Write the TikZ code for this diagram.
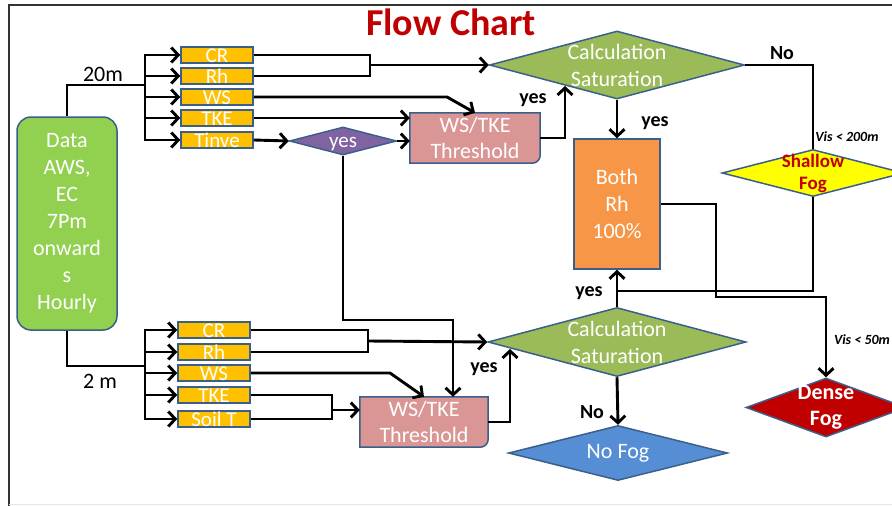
\documentclass[tikz,border=0pt]{standalone}
\usepackage{fontspec}
\setmainfont{Carlito}
\usetikzlibrary{arrows.meta,shapes.geometric,backgrounds}
\definecolor{bord}{HTML}{3A5F8B}
\definecolor{gbox}{HTML}{92D050}
\definecolor{gold}{HTML}{FFC000}
\definecolor{pinkb}{HTML}{D99694}
\definecolor{gdia}{HTML}{9BBB59}
\definecolor{oran}{HTML}{F79646}
\definecolor{purp}{HTML}{8064A2}
\definecolor{yell}{HTML}{FFFF00}
\definecolor{dred}{HTML}{C00000}
\definecolor{bluef}{HTML}{558ED5}
\newcommand\sm[1]{\raisebox{-0.34em}[0pt][0pt]{#1}}
\tikzset{
  ln/.style={line width=2.9pt, black},
  arr/.style={ln, -{Straight Barb[length=7pt,width=15pt]}},
  bx/.style={draw=bord, line width=1.5pt, text=white, align=center, inner sep=0pt},
  sbox/.style={bx, fill=gold, minimum width=72pt, minimum height=16pt, font=\fontsize{21}{21}\selectfont},
  dia/.style={diamond, draw=bord, line width=1.5pt, inner sep=0pt},
  dtxt/.style={text=white, align=center, font=\fontsize{22}{27}\selectfont},
  lbl/.style={font=\bfseries\fontsize{20}{20}\selectfont},
  vis/.style={font=\bfseries\itshape\fontsize{14}{14}\selectfont},
  thr/.style={text=white, align=center, inner sep=0pt, minimum width=130pt, minimum height=50pt, font=\fontsize{22}{26}\selectfont},
}
\begin{document}
\begin{tikzpicture}[x=1pt,y=-1pt]
\useasboundingbox (0,0) rectangle (892,506);
% frame
\draw[line width=2pt, black!80] (9,506) -- (9,5) -- (892,5);
\draw[line width=1pt, black!10] (9,504) -- (892,504);
% title
\node[font=\bfseries\fontsize{38}{38}\selectfont, text=dred] (title) at (451,22) {Flow Chart};
% data box
\node[bx, fill=gbox, rounded corners=14pt, minimum width=100pt, minimum height=213pt, font=\fontsize{22}{27}\selectfont] (data) at (67,223.5) {Data\\AWS,\\EC\\7Pm\\onward\\s\\Hourly};
% top small boxes
\node[sbox] (cr1) at (217,55) {\sm{CR}};
\node[sbox] (rh1) at (217,76) {\sm{Rh}};
\node[sbox] (ws1) at (217,97) {\sm{WS}};
\node[sbox] (tke1) at (217,118) {\sm{TKE}};
\node[sbox] (tin) at (217,140) {\sm{Tinve}};
% bottom small boxes
\node[sbox] (cr2) at (214,330) {\sm{CR}};
\node[sbox] (rh2) at (214,352) {\sm{Rh}};
\node[sbox] (ws2) at (214,373) {\sm{WS}};
\node[sbox] (tke2) at (214,395) {\sm{TKE}};
\node[sbox] (soil) at (214,419) {\sm{Soil T}};
% yes diamond
\node[dia, fill=purp, minimum width=107pt, minimum height=28pt, label={[dtxt, font=\fontsize{21}{21}\selectfont, yshift=-3pt]center:yes}] (yes) at (343,141) {};
% thresholds
\node[thr] (t1) at (475,138) {WS/TKE\\Threshold};
\node[thr, minimum width=128pt] (t2) at (424,422) {WS/TKE\\Threshold};
\begin{scope}[on background layer]
\path[fill=pinkb, draw=bord, line width=1.5pt] (t1.north west) -- (t1.north east) -- ([yshift=8pt]t1.south east) arc[start angle=0, end angle=-90, radius=8pt] -- (t1.south west) -- cycle;
\path[fill=pinkb, draw=bord, line width=1.5pt] (t2.north west) -- (t2.north east) -- ([yshift=8pt]t2.south east) arc[start angle=0, end angle=-90, radius=8pt] -- (t2.south west) -- cycle;
\end{scope}
% calculation diamonds
\node[dia, fill=gdia, minimum width=255pt, minimum height=68pt, label={[dtxt]center:{Calculation\\Saturation}}] (c1) at (617,65) {};
\node[dia, fill=gdia, minimum width=258pt, minimum height=69pt, label={[dtxt]center:{Calculation\\Saturation}}] (c2) at (617,342) {};
% both box
\node[bx, fill=oran, minimum width=86pt, minimum height=130pt, font=\fontsize{22}{27}\selectfont] (both) at (617,204) {Both\\Rh\\100\%};
% outcome diamonds
\node[dia, fill=yell, minimum width=182pt, minimum height=47pt, label={[align=center, text=dred, font=\bfseries\fontsize{19}{22}\selectfont]center:{Shallow\\Fog}}] (sh) at (813,173) {};
\node[dia, fill=dred, minimum width=160pt, minimum height=59pt, label={[align=center, text=white, font=\bfseries\fontsize{22}{26}\selectfont]center:{Dense\\Fog}}] (dense) at (826,407.5) {};
\node[dia, fill=bluef, minimum width=219pt, minimum height=55pt, label={[dtxt]center:{No Fog}}] (nofog) at (618,453) {};
% coordinates
\coordinate (j1) at (145,85);
\coordinate (j2) at (145,366);
\coordinate (m1) at (370,65);
\coordinate (w1) at (447,97);
\coordinate (u1) at (565,86);
\coordinate (m2) at (617,291);
\coordinate (d1) at (716,297);
\coordinate (m3) at (368,341);
\coordinate (y2) at (453,320);
\coordinate (w2) at (390,373);
\coordinate (m4) at (332,410);
\coordinate (u2) at (510,349);
% connectors top
\draw[ln] (data.north) |- (j1);
\foreach \b in {cr1,rh1,ws1,tke1,tin} \draw[arr] (j1) |- (\b.west);
\draw[ln] (cr1.east) -| (m1);
\draw[ln] (rh1.east) -| (m1);
\draw[arr] (m1) -- (c1.west);
\draw[arr] (ws1.east) -- (w1) -- (t1.north);
\draw[arr] (tke1.east) -- (tke1.east -| t1.west);
\draw[arr] (tin.east) -- (yes.west);
\draw[arr] (yes.east) -- (yes.east -| t1.west);
\draw[arr] (t1.east) -| (u1);
\draw[arr] (c1.south) -- (both.north);
\draw[ln] (c1.east) -| (sh.north);
\draw[ln] (sh.south) |- (m2);
\draw[arr] (both.east) -| (d1) -| (dense.north);
% connectors bottom
\draw[ln] (data.south) |- (j2);
\foreach \b in {cr2,rh2,ws2,tke2,soil} \draw[arr] (j2) |- (\b.west);
\draw[ln] (cr2.east) -| (m3);
\draw[ln] (rh2.east) -| (m3);
\draw[arr] (m3) -- (c2.west);
\draw[arr] (yes.south) |- (y2) -- (y2 |- t2.north);
\draw[arr] (ws2.east) -- (w2) -- (t2.north);
\draw[ln] (tke2.east) -| (m4);
\draw[ln] (soil.east) -| (m4);
\draw[arr] (m4) -- (m4 -| t2.west);
\draw[arr] (t2.east) -| (u2);
\draw[arr] (c2.north) -- (both.south);
\draw[arr] (c2.south) -- (nofog.north);
% labels
\node[font=\fontsize{22}{22}\selectfont] (l20) at (103,74) {20m};
\node[font=\fontsize{22}{22}\selectfont] (l2) at (100,381) {2 m};
\node[lbl] (ly1) at (533,100) {yes};
\node[lbl] (ly2) at (655,123) {yes};
\node[lbl] (ln1) at (782,53) {No};
\node[vis] (v1) at (847,137) {Vis < 200m};
\node[vis] (v2) at (862,340) {Vis < 50m};
\node[lbl] (ly3) at (589,293) {yes};
\node[lbl] (ly4) at (484,369) {yes};
\node[lbl] (ln2) at (592,412) {No};
\end{tikzpicture}
\end{document}
